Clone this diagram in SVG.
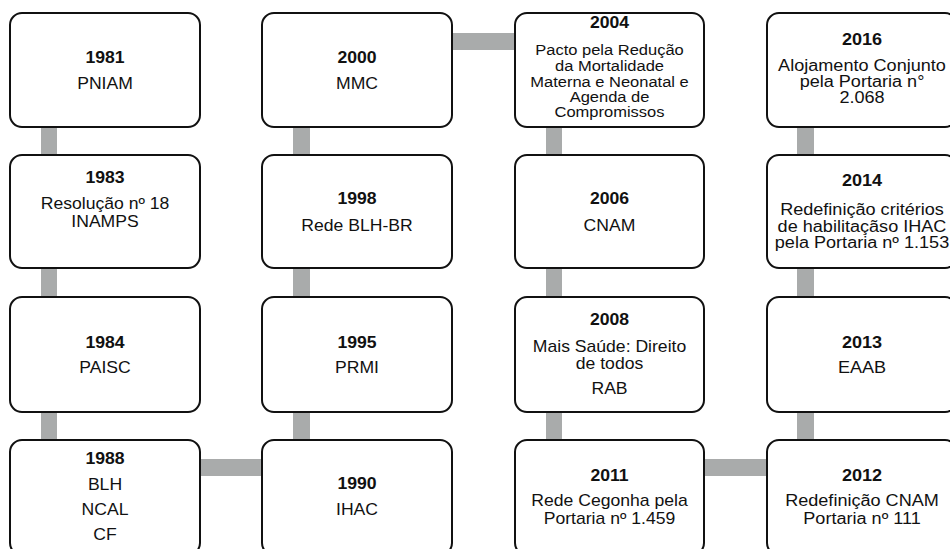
<svg xmlns="http://www.w3.org/2000/svg" width="950" height="549" viewBox="0 0 950 549">
<style>
.box{fill:#fff;stroke:#111;stroke-width:2}
.bar{fill:#a9abab}
text{font-family:"Liberation Sans",Arial,sans-serif;font-size:16px;fill:#111;text-anchor:middle}
.y{font-weight:bold}
.sm text{font-size:15px}
.sm text.y{font-size:16px}
</style>
<rect width="950" height="549" fill="#fff"/>
<g id="connectors">
<rect class="bar" x="41" y="126" width="16" height="30"/>
<rect class="bar" x="41" y="267" width="16" height="31"/>
<rect class="bar" x="41" y="411" width="16" height="30"/>
<rect class="bar" x="293" y="126" width="17" height="30"/>
<rect class="bar" x="293" y="267" width="17" height="31"/>
<rect class="bar" x="293" y="411" width="17" height="30"/>
<rect class="bar" x="546" y="126" width="16" height="30"/>
<rect class="bar" x="546" y="267" width="16" height="31"/>
<rect class="bar" x="546" y="411" width="16" height="30"/>
<rect class="bar" x="797" y="126" width="17" height="30"/>
<rect class="bar" x="797" y="267" width="17" height="31"/>
<rect class="bar" x="797" y="411" width="17" height="30"/>
<rect class="bar" x="199" y="459" width="64" height="17"/>
<rect class="bar" x="451" y="33" width="65" height="17"/>
<rect class="bar" x="703" y="459" width="65" height="17"/>
</g>
<g id="n1981"><rect class="box" x="10" y="13" width="190" height="114" rx="12"/><g transform="translate(105 0) scale(1.1 1)"><text class="y" x="0" y="63">1981</text><text x="0" y="89">PNIAM</text></g></g>
<g id="n1983"><rect class="box" x="10" y="155" width="190" height="113" rx="12"/><g transform="translate(105 0) scale(1.1 1)"><text class="y" x="0" y="183">1983</text><text x="0" y="209">Resolução nº 18</text><text x="0" y="227">INAMPS</text></g></g>
<g id="n1984"><rect class="box" x="10" y="297" width="190" height="115" rx="12"/><g transform="translate(105 0) scale(1.1 1)"><text class="y" x="0" y="348">1984</text><text x="0" y="373">PAISC</text></g></g>
<g id="n1988"><rect class="box" x="10" y="440" width="190" height="115" rx="12"/><g transform="translate(105 0) scale(1.1 1)"><text class="y" x="0" y="464">1988</text><text x="0" y="490">BLH</text><text x="0" y="515">NCAL</text><text x="0" y="540">CF</text></g></g>
<g id="n2000"><rect class="box" x="262" y="13" width="190" height="114" rx="12"/><g transform="translate(357 0) scale(1.1 1)"><text class="y" x="0" y="63">2000</text><text x="0" y="89">MMC</text></g></g>
<g id="n1998"><rect class="box" x="262" y="155" width="190" height="113" rx="12"/><g transform="translate(357 0) scale(1.1 1)"><text class="y" x="0" y="204">1998</text><text x="0" y="231">Rede BLH-BR</text></g></g>
<g id="n1995"><rect class="box" x="262" y="297" width="190" height="115" rx="12"/><g transform="translate(357 0) scale(1.1 1)"><text class="y" x="0" y="348">1995</text><text x="0" y="373">PRMI</text></g></g>
<g id="n1990"><rect class="box" x="262" y="440" width="190" height="115" rx="12"/><g transform="translate(357 0) scale(1.1 1)"><text class="y" x="0" y="489">1990</text><text x="0" y="515">IHAC</text></g></g>
<g id="n2004"><rect class="box" x="515" y="13" width="189" height="114" rx="12"/><g class="sm" transform="translate(609.5 0) scale(1.1 1)"><text class="y" x="0" y="28">2004</text><text x="0" y="55">Pacto pela Redução</text><text x="0" y="71">da Mortalidade</text><text x="0" y="87">Materna e Neonatal e</text><text x="0" y="102">Agenda de</text><text x="0" y="117">Compromissos</text></g></g>
<g id="n2006"><rect class="box" x="515" y="155" width="189" height="113" rx="12"/><g transform="translate(609.5 0) scale(1.1 1)"><text class="y" x="0" y="204">2006</text><text x="0" y="231">CNAM</text></g></g>
<g id="n2008"><rect class="box" x="515" y="297" width="189" height="115" rx="12"/><g transform="translate(609.5 0) scale(1.1 1)"><text class="y" x="0" y="325">2008</text><text x="0" y="352">Mais Saúde: Direito</text><text x="0" y="369">de todos</text><text x="0" y="394">RAB</text></g></g>
<g id="n2011"><rect class="box" x="515" y="440" width="189" height="115" rx="12"/><g transform="translate(609.5 0) scale(1.1 1)"><text class="y" x="0" y="481">2011</text><text x="0" y="506">Rede Cegonha pela</text><text x="0" y="524">Portaria nº 1.459</text></g></g>
<g id="n2016"><rect class="box" x="767" y="13" width="190" height="114" rx="12"/><g transform="translate(862 0) scale(1.13 1)"><text class="y" x="0" y="45">2016</text><text x="0" y="71">Alojamento Conjunto</text><text x="0" y="87">pela Portaria n°</text><text x="0" y="103">2.068</text></g></g>
<g id="n2014"><rect class="box" x="767" y="155" width="190" height="113" rx="12"/><g transform="translate(862 0) scale(1.13 1)"><text class="y" x="0" y="186">2014</text><text x="0" y="215">Redefinição critérios</text><text x="0" y="232">de habilitaçãso IHAC</text><text x="0" y="248">pela Portaria nº 1.153</text></g></g>
<g id="n2013"><rect class="box" x="767" y="297" width="190" height="115" rx="12"/><g transform="translate(862 0) scale(1.13 1)"><text class="y" x="0" y="348">2013</text><text x="0" y="373">EAAB</text></g></g>
<g id="n2012"><rect class="box" x="767" y="440" width="190" height="115" rx="12"/><g transform="translate(862 0) scale(1.13 1)"><text class="y" x="0" y="481">2012</text><text x="0" y="506">Redefinição CNAM</text><text x="0" y="524">Portaria nº 111</text></g></g>
</svg>
